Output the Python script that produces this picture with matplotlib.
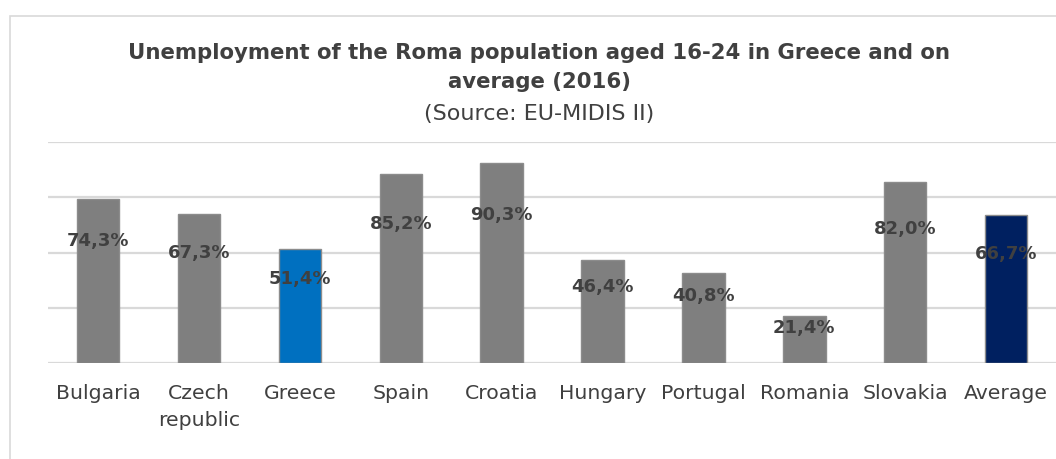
import matplotlib
matplotlib.use("Agg")
import matplotlib.pyplot as plt
from matplotlib.patches import Rectangle

categories = ["Bulgaria", "Czech\nrepublic", "Greece", "Spain", "Croatia",
              "Hungary", "Portugal", "Romania", "Slovakia", "Average"]
values = [74.3, 67.3, 51.4, 85.2, 90.3, 46.4, 40.8, 21.4, 82.0, 66.7]
labels = ["74,3%", "67,3%", "51,4%", "85,2%", "90,3%",
          "46,4%", "40,8%", "21,4%", "82,0%", "66,7%"]
colors = ["#7f7f7f", "#7f7f7f", "#0070c0", "#7f7f7f", "#7f7f7f",
          "#7f7f7f", "#7f7f7f", "#7f7f7f", "#7f7f7f", "#002060"]
grid_ticks = [0, 25, 50, 75, 100]

W, H = 1056, 459
fig = plt.figure(figsize=(W / 100, H / 100), dpi=100)
fig.patch.set_facecolor("white")

# chart border
fig.patches.append(Rectangle((10 / W, -0.1), 1.2, 1 - 16 / H + 0.1,
                             transform=fig.transFigure, fill=False,
                             edgecolor="#d9d9d9", linewidth=1.2))

ax = fig.add_axes([47.6 / W, 1 - 363.3 / H, 1009 / W, (363.3 - 141.7) / H])
ax.set_xlim(-0.5, len(categories) - 0.5)
ax.set_ylim(0, 100)
for s in ax.spines.values():
    s.set_visible(False)
ax.set_yticks(grid_ticks)
ax.set_yticklabels([])
ax.tick_params(axis="y", length=0)
ax.yaxis.grid(True, color="#d9d9d9", linewidth=1.6)
ax.set_axisbelow(True)

x = range(len(categories))
ax.bar(x, values, width=0.42, color=colors, edgecolor="#8c8c8c", linewidth=1.0)
for xi, v, lab in zip(x, values, labels):
    ax.text(xi, v * 0.74, lab, ha="center", va="center", fontsize=13,
            fontweight="bold", color="#404040")

ax.set_xticks(list(x))
ax.set_xticklabels(categories, fontsize=14.7, color="#404040", linespacing=1.5)
ax.tick_params(axis="x", length=0, pad=15)

fig.text(539 / W, 1 - 53 / H,
         "Unemployment of the Roma population aged 16-24 in Greece and on",
         ha="center", va="center", fontsize=15.3, fontweight="bold", color="#404040")
fig.text(539 / W, 1 - 82.5 / H, "average (2016)",
         ha="center", va="center", fontsize=15.3, fontweight="bold", color="#404040")
fig.text(539 / W, 1 - 114 / H, "(Source: EU-MIDIS II)",
         ha="center", va="center", fontsize=16, color="#404040")

fig.savefig("out.png", dpi=100, facecolor="white")
